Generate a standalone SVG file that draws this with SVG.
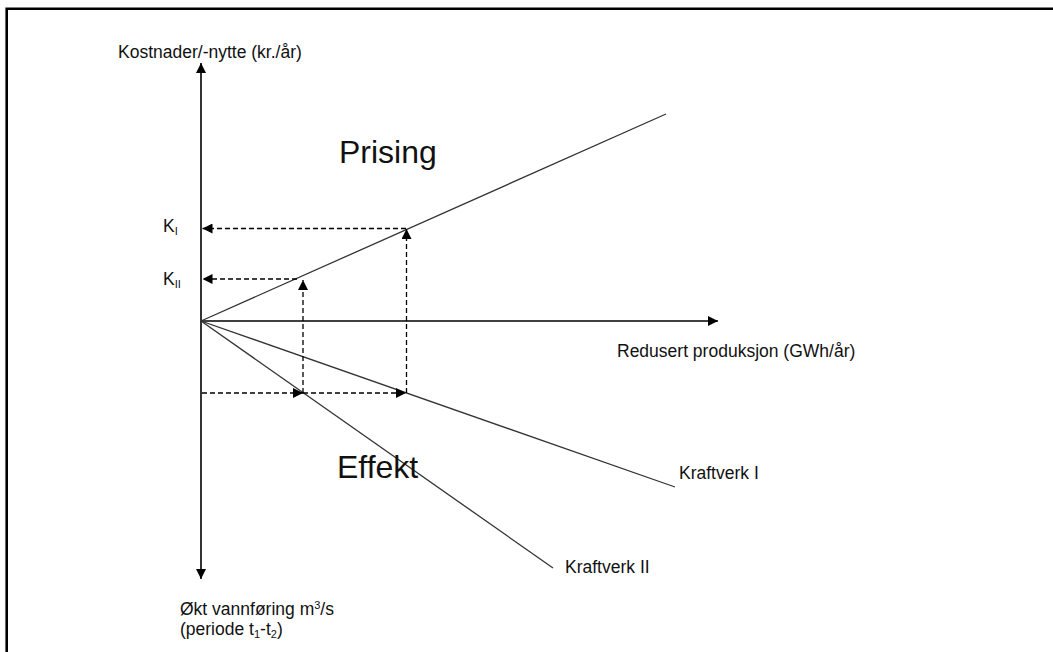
<svg xmlns="http://www.w3.org/2000/svg" width="1053" height="652" viewBox="0 0 1053 652">
<defs>
<style>
text{font-family:"Liberation Sans",Arial,sans-serif;fill:#111}
.s{font-size:17.5px}
.b{font-size:32px}
.ax{stroke:#000;stroke-width:1.6;fill:none}
.ln{stroke:#333;stroke-width:1.3;fill:none}
.d{stroke:#000;stroke-width:1.3;stroke-dasharray:5,3;fill:none}
</style>
<marker id="ah" markerWidth="10" markerHeight="10" refX="10" refY="5" orient="auto" markerUnits="userSpaceOnUse">
<path d="M0,0 L10,5 L0,10 Z" fill="#000"/>
</marker>
</defs>
<rect x="0" y="0" width="1053" height="652" fill="#fff"/>
<path d="M6.7,652 V8.7 H1053" stroke="#000" stroke-width="2.6" fill="none"/>
<g id="connectors">
<line class="ax" x1="201" y1="321" x2="201" y2="63" marker-end="url(#ah)"/>
<line class="ax" x1="201" y1="321" x2="201" y2="579" marker-end="url(#ah)"/>
<line class="ax" x1="201" y1="321" x2="718" y2="321" marker-end="url(#ah)"/>
<line class="ln" x1="201" y1="321" x2="666" y2="114"/>
<line class="ln" x1="201" y1="321" x2="675" y2="487"/>
<line class="ln" x1="201" y1="321" x2="553" y2="568"/>
<line class="d" x1="406" y1="228.5" x2="202.5" y2="228.5" marker-end="url(#ah)"/>
<line class="d" x1="297" y1="279" x2="202.5" y2="279" marker-end="url(#ah)"/>
<line class="d" x1="303" y1="393" x2="303" y2="280" marker-end="url(#ah)"/>
<line class="d" x1="406.5" y1="393" x2="406.5" y2="229" marker-end="url(#ah)"/>
<line class="d" x1="202" y1="393" x2="303" y2="393" marker-end="url(#ah)"/>
<line class="d" x1="303" y1="393" x2="406" y2="393" marker-end="url(#ah)"/>
</g>
<g id="ylabel"><text class="s" x="118" y="58">Kostnader/-nytte (kr./år)</text></g>
<g id="xlabel"><text class="s" x="617" y="357">Redusert produksjon (GWh/år)</text></g>
<g id="prising"><text class="b" x="339" y="163">Prising</text></g>
<g id="effekt"><text class="b" x="337" y="478">Effekt</text></g>
<g id="k1"><text class="s" x="163" y="232">K<tspan font-size="11" dy="3">I</tspan></text></g>
<g id="k2"><text class="s" x="163" y="285">K<tspan font-size="11" dy="3">II</tspan></text></g>
<g id="kv1"><text class="s" x="679" y="479">Kraftverk I</text></g>
<g id="kv2"><text class="s" x="565" y="573">Kraftverk II</text></g>
<g id="flow"><text class="s" x="180" y="615">Økt vannføring m<tspan font-size="11" dy="-6">3</tspan><tspan dy="6">/s</tspan></text>
<text class="s" x="180" y="635">(periode t<tspan font-size="11" dy="3">1</tspan><tspan dy="-3">-t</tspan><tspan font-size="11" dy="3">2</tspan><tspan dy="-3">)</tspan></text></g>
</svg>
